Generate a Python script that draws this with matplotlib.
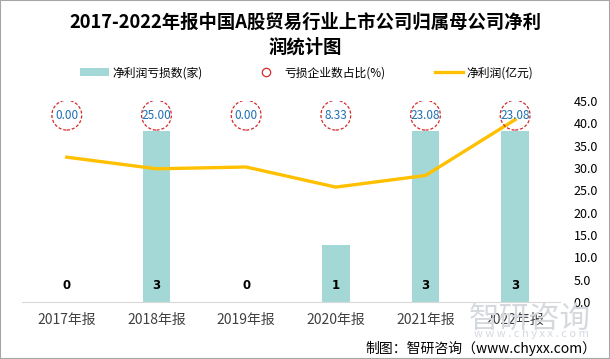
import numpy as np
import matplotlib
matplotlib.use("Agg")
import matplotlib.pyplot as plt
from matplotlib.patches import Patch, Rectangle
from matplotlib.lines import Line2D

plt.rcParams['font.family'] = ['Noto Sans CJK SC', 'DejaVu Sans']

years = ['2017年报', '2018年报', '2019年报', '2020年报', '2021年报', '2022年报']
loss_count = [0, 3, 0, 1, 3, 3]
loss_ratio = [0.00, 25.00, 0.00, 8.33, 23.08, 23.08]
net_profit = [32.4, 29.8, 30.2, 25.7, 28.3, 40.8]

x = np.arange(len(years))

fig = plt.figure(figsize=(6.10, 3.59), dpi=100)
fig.patches.append(Rectangle((0, 0), 1, 1, transform=fig.transFigure,
                             fill=False, edgecolor='#a6a6a6', linewidth=1.5))

ax = fig.add_axes([0.036, 0.159, 0.882, 0.56])
ax.bar(x, loss_count, width=0.31, color='#a4d8d6', zorder=2)
ax.set_ylim(0, 3.53)
ax.set_xlim(-0.5, len(years) - 0.5)
ax.set_yticks([])
for s in ['top', 'left', 'right']:
    ax.spines[s].set_visible(False)
ax.spines['bottom'].set_color('#d9d9d9')
ax.set_xticks(x)
ax.set_xticklabels(years, fontsize=10, color='#404040')
ax.tick_params(axis='x', length=0, pad=8)
for xi, v in zip(x, loss_count):
    ax.annotate(str(v), (xi, 0), xytext=(0, 12), textcoords='offset points',
                ha='center', va='center', fontsize=8.5, fontweight='bold',
                family='DejaVu Sans')

ax2 = ax.twinx()
ax2.set_ylim(0, 45)
ax2.set_yticks(np.arange(0, 46, 5))
ax2.set_yticklabels([f'{t:.1f}' for t in np.arange(0, 46, 5)], fontsize=9)
ax2.tick_params(axis='y', length=0, pad=10)
for s in ['top', 'left', 'right', 'bottom']:
    ax2.spines[s].set_visible(False)
ax2.plot(x, net_profit, color='#ffc000', linewidth=2.4, zorder=3)

circle_y = [41.8] * len(x)
ax2.scatter(x, circle_y, s=460, facecolors='none', edgecolors='#d42a2a',
            linewidths=0.9, linestyles=(0, (2.5, 1.5)), zorder=4)
for xi, yi, r in zip(x, circle_y, loss_ratio):
    ax2.text(xi, yi, f'{r:.2f}', ha='center', va='center', fontsize=8.5,
             color='#1f6fb2', zorder=5)

fig.text(0.5, 0.938, '2017-2022年报中国A股贸易行业上市公司归属母公司净利',
         ha='center', va='center', fontsize=13.2, fontweight='bold')
fig.text(0.5, 0.868, '润统计图', ha='center', va='center', fontsize=13.2,
         fontweight='bold')

handles = [
    Patch(facecolor='#a4d8d6', edgecolor='none'),
    Line2D([], [], linestyle='none', marker='o', markersize=6,
           markerfacecolor='none', markeredgecolor='#d42a2a',
           markeredgewidth=0.9),
    Line2D([], [], color='#ffc000', linewidth=2.4),
]
labels = ['净利润亏损数(家)', '亏损企业数占比(%)', '净利润(亿元)']
fig.legend(handles, labels, loc='center', bbox_to_anchor=(0.503, 0.797), ncol=3,
           frameon=False, fontsize=8.5, columnspacing=4.2, handlelength=2.4,
           handletextpad=0.3)

fig.text(0.968, 0.11, '智研咨询', ha='right', va='center', fontsize=22,
         color='#d5d9de', zorder=0)
fig.text(0.965, 0.07, 'w w w . c h y x x . c o m', ha='right', va='center',
         fontsize=8, color='#d5d9de', zorder=0)
fig.text(0.978, 0.03, '制图：智研咨询（www.chyxx.com）', ha='right', va='center',
         fontsize=10)

fig.savefig('out.png', dpi=100)
